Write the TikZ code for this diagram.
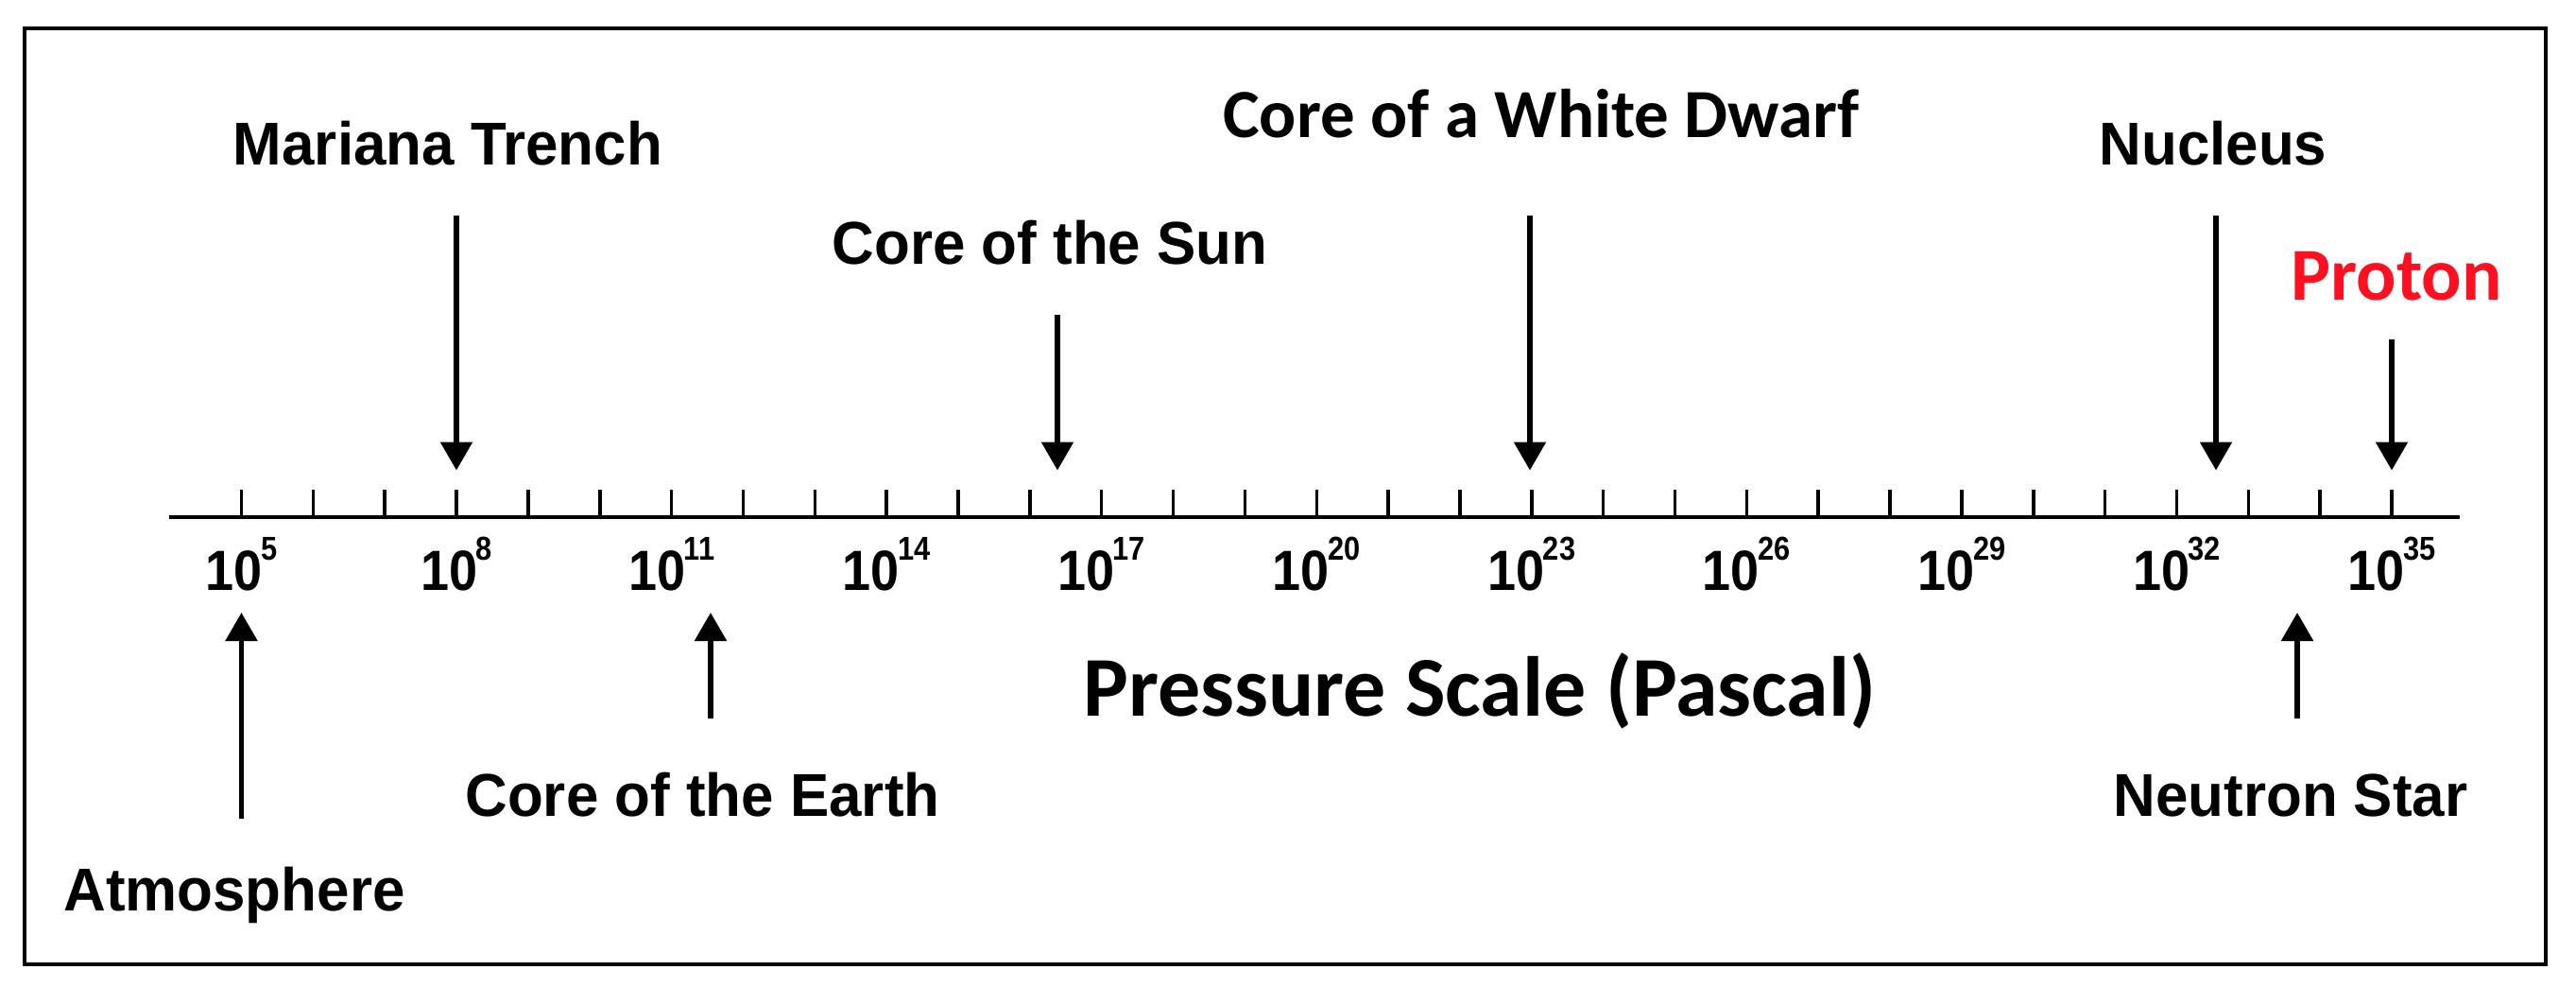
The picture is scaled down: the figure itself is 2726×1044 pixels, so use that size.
\documentclass[tikz,border=0pt]{standalone}
\usepackage{fontspec}
\usepackage{graphicx}
\setmainfont{Liberation Sans}
\newfontfamily\helv[FakeStretch=0.967]{Liberation Sans}
\newfontfamily\calib{Carlito}
\usetikzlibrary{arrows.meta}
\definecolor{protonred}{RGB}{255,16,32}
\newcommand\tlab[1]{\scalebox{0.9}[1]{\fontsize{60}{60}\selectfont 10}\kern-1.5pt\raisebox{32pt}{\scalebox{0.88}[1]{\fontsize{35}{35}\selectfont #1}}}
\begin{document}
\begin{tikzpicture}[x=1pt,y=-1pt,
  lbl/.style={inner sep=0pt, anchor=base, font=\helv\bfseries\fontsize{64}{64}\selectfont},
  callbl/.style={inner sep=0pt, anchor=base, font=\calib\bfseries\fontsize{73}{73}\selectfont},
  ticklbl/.style={inner sep=0pt, anchor=base, font=\rmfamily\bfseries},
  arr/.style={line width=5.5pt, -{Triangle[width=33pt,length=30pt]}},
  tickline/.style={line width=3.5pt},
  axisline/.style={line width=4.5pt},
  frameline/.style={line width=4.5pt}]
\useasboundingbox (0,0) rectangle (2726,1044);
\draw[frameline] (26,30) rectangle (2694,1020);
% axis
\coordinate (axL) at (179,547);
\coordinate (axR) at (2603,547);
\draw[axisline] (axL) -- (axR);
\foreach \i in {0,...,30}{
  \coordinate (t\i) at ({255.5+75.85*\i},547);
  \draw[tickline] (t\i) -- ++(0,-29);
}
\foreach \e [count=\k from 0] in {5,8,...,35}{
  \node[ticklbl] (l\e) at ({255.5+75.85*3*\k},624) {\tlab{\e}};
}
% labels above
\node[lbl] (mar) at (474,174) {Mariana Trench};
\node[lbl] (sun) at (1111,279) {Core of the Sun};
\node[callbl] (wd) at (1631,145) {Core of a White Dwarf};
\node[lbl] (nuc) at (2342,174) {Nucleus};
\node[callbl, text=protonred, font=\calib\bfseries\fontsize{79}{79}\selectfont] (pro) at (2536,317) {Proton};
% labels below
\node[lbl] (atm) at (248,963) {Atmosphere};
\node[lbl] (ear) at (743.5,863) {Core of the Earth};
\node[lbl] (neu) at (2424,863) {Neutron Star};
\node[callbl, font=\calib\bfseries\fontsize{90}{90}\selectfont] (psc) at (1566,757) {Pressure Scale (Pascal)};
% down arrows
\coordinate (marT) at (483,228);   \coordinate (marH) at (483,497.5);
\coordinate (sunT) at (1119,333);  \coordinate (sunH) at (1119,497.5);
\coordinate (wdT) at (1619,228);   \coordinate (wdH) at (1619,497.5);
\coordinate (nucT) at (2345,228);  \coordinate (nucH) at (2345,497.5);
\coordinate (proT) at (2531,359);  \coordinate (proH) at (2531,497.5);
\draw[arr] (marT) -- (marH);
\draw[arr] (sunT) -- (sunH);
\draw[arr] (wdT) -- (wdH);
\draw[arr] (nucT) -- (nucH);
\draw[arr] (proT) -- (proH);
% up arrows
\coordinate (atmT) at (255.5,866); \coordinate (atmH) at (255.5,648);
\coordinate (earT) at (752,760);   \coordinate (earH) at (752,648);
\coordinate (neuT) at (2431,760);  \coordinate (neuH) at (2431,648);
\draw[arr] (atmT) -- (atmH);
\draw[arr] (earT) -- (earH);
\draw[arr] (neuT) -- (neuH);
\end{tikzpicture}
\end{document}
